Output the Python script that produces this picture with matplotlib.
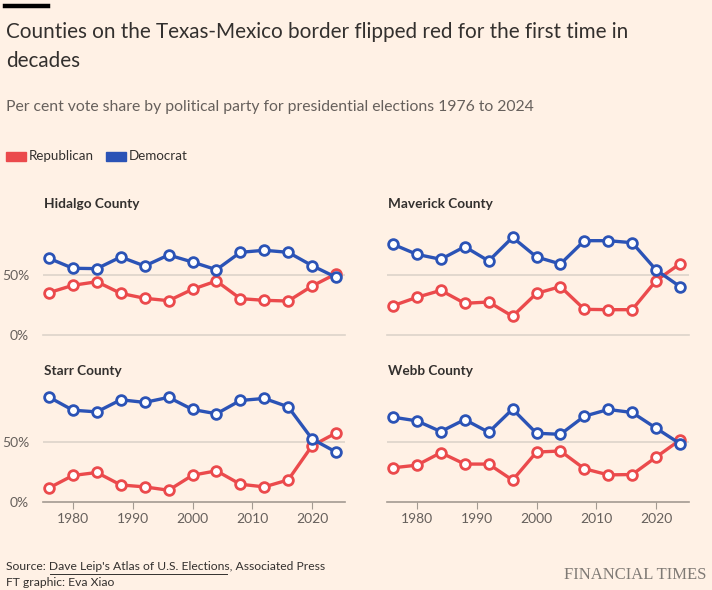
import matplotlib.pyplot as plt
from matplotlib.lines import Line2D

# data (per cent vote share)
years = [1976, 1980, 1984, 1988, 1992, 1996, 2000, 2004, 2008, 2012, 2016, 2020, 2024]
counties = ['Hidalgo County', 'Maverick County', 'Starr County', 'Webb County']

hidalgo_dem = [63.9, 55.6, 55.3, 65.0, 57.5, 66.7, 60.8, 54.4, 68.9, 70.6, 68.9, 57.8, 48.1]
hidalgo_rep = [35.3, 41.4, 44.4, 34.7, 30.6, 28.6, 38.1, 45.0, 30.3, 28.9, 28.3, 40.8, 51.0]
maverick_dem = [75.6, 67.2, 63.1, 73.6, 61.7, 81.4, 65.0, 59.2, 78.6, 78.6, 76.9, 54.2, 40.3]
maverick_rep = [24.4, 31.4, 37.2, 26.4, 27.5, 15.6, 34.7, 40.3, 21.4, 21.1, 21.1, 45.3, 59.4]
starr_dem = [87.4, 76.5, 75.1, 85.2, 83.0, 87.2, 77.1, 73.5, 84.6, 86.3, 79.3, 52.5, 41.6]
starr_rep = [11.7, 22.1, 24.6, 14.2, 12.6, 9.8, 22.3, 26.0, 14.8, 12.6, 18.4, 46.9, 57.5]
webb_dem = [70.7, 67.6, 58.7, 68.7, 58.1, 77.4, 57.3, 56.4, 71.5, 77.1, 74.6, 61.5, 48.6]
webb_rep = [28.5, 30.7, 41.1, 31.6, 31.6, 18.2, 41.6, 42.5, 27.7, 22.6, 22.9, 37.4, 51.7]

dem = [hidalgo_dem, maverick_dem, starr_dem, webb_dem]
rep = [hidalgo_rep, maverick_rep, starr_rep, webb_rep]

BG = '#FFF1E5'
RED = '#EB4A4C'
BLUE = '#2B53B6'
TXT = '#33302E'
GREY = '#66605C'
GRID = '#DDD3CA'
AXIS = '#A39A91'

plt.rcParams['font.family'] = ['Lato', 'DejaVu Sans']

W, H = 712, 590


def fx(px):
    return px / W


def fy(py):
    return 1 - py / H


fig = plt.figure(figsize=(7.12, 5.9), dpi=100, facecolor=BG)

# header
fig.add_artist(Line2D([fx(5), fx(48)], [fy(5.5), fy(5.5)], color='black', lw=3.2))
fig.text(fx(6), fy(32), 'Counties on the Texas-Mexico border flipped red for the first time in',
         fontsize=14.9, color=TXT, va='center', ha='left')
fig.text(fx(6), fy(61), 'decades', fontsize=14.9, color=TXT, va='center', ha='left')
fig.text(fx(6), fy(107), 'Per cent vote share by political party for presidential elections 1976 to 2024',
         fontsize=11.3, color=GREY, va='center', ha='left')

# legend
fig.patches.append(plt.Rectangle((fx(6), fy(161)), fx(20), 9 / H, color=RED, transform=fig.transFigure))
fig.text(fx(29), fy(156), 'Republican', fontsize=9.6, color=TXT, va='center')
fig.patches.append(plt.Rectangle((fx(106), fy(161)), fx(20), 9 / H, color=BLUE, transform=fig.transFigure))
fig.text(fx(129), fy(156), 'Democrat', fontsize=9.6, color=TXT, va='center')

# panel positions in px: left edge and y of the 0% line
lefts = [43, 387, 43, 387]
zero_y = [335, 335, 502, 502]
title_y = [204, 204, 371, 371]
width_px = 302
height_px = 120  # 0 to 100 per cent

for i, name in enumerate(counties):
    l = lefts[i]
    ax = fig.add_axes([fx(l), fy(zero_y[i]), width_px / W, height_px / H])
    ax.set_facecolor(BG)
    ax.patch.set_alpha(0)
    ax.set_xlim(1975, 2025.5)
    ax.set_ylim(0, 100)
    for s in ax.spines.values():
        s.set_visible(False)
    bottom_row = i >= 2
    ax.axhline(50, color=GRID, lw=1.2, zorder=0)
    ax.axhline(0, color=AXIS if bottom_row else GRID, lw=1.2, zorder=0, clip_on=False)
    ax.plot(years, rep[i], color=RED, lw=2.4, marker='o', ms=7, mfc='white', mec=RED, mew=2,
            zorder=3, clip_on=False)
    ax.plot(years, dem[i], color=BLUE, lw=2.4, marker='o', ms=7, mfc='white', mec=BLUE, mew=2,
            zorder=4, clip_on=False)
    ax.set_yticks([0, 50])
    if i % 2 == 0:
        ax.set_yticklabels(['0%', '50%'], fontsize=10, color=GREY)
    else:
        ax.set_yticklabels([])
    ax.tick_params(axis='y', length=0, pad=10)
    ax.set_xticks([1980, 1990, 2000, 2010, 2020])
    if bottom_row:
        ax.tick_params(axis='x', length=5, color=AXIS, labelsize=10, labelcolor=GREY, pad=3)
    else:
        ax.tick_params(axis='x', length=0, labelbottom=False)
    fig.text(fx(l + 1), fy(title_y[i]), name, fontsize=9.8, fontweight='bold', color=TXT, va='center')

# footer
fig.text(fx(6), fy(567), "Source: Dave Leip's Atlas of U.S. Elections, Associated Press",
         fontsize=8.7, color=TXT, va='center')
fig.add_artist(Line2D([fx(50), fx(227)], [fy(574), fy(574)], color=TXT, lw=0.7))
fig.text(fx(6), fy(582), 'FT graphic: Eva Xiao', fontsize=8.7, color=TXT, va='center')
fig.text(fx(706), fy(575), 'FINANCIAL TIMES', fontsize=12, color='#7F7A75',
         family=['Liberation Serif', 'DejaVu Serif'], ha='right', va='center')

fig.savefig('out.png', dpi=100, facecolor=BG)
